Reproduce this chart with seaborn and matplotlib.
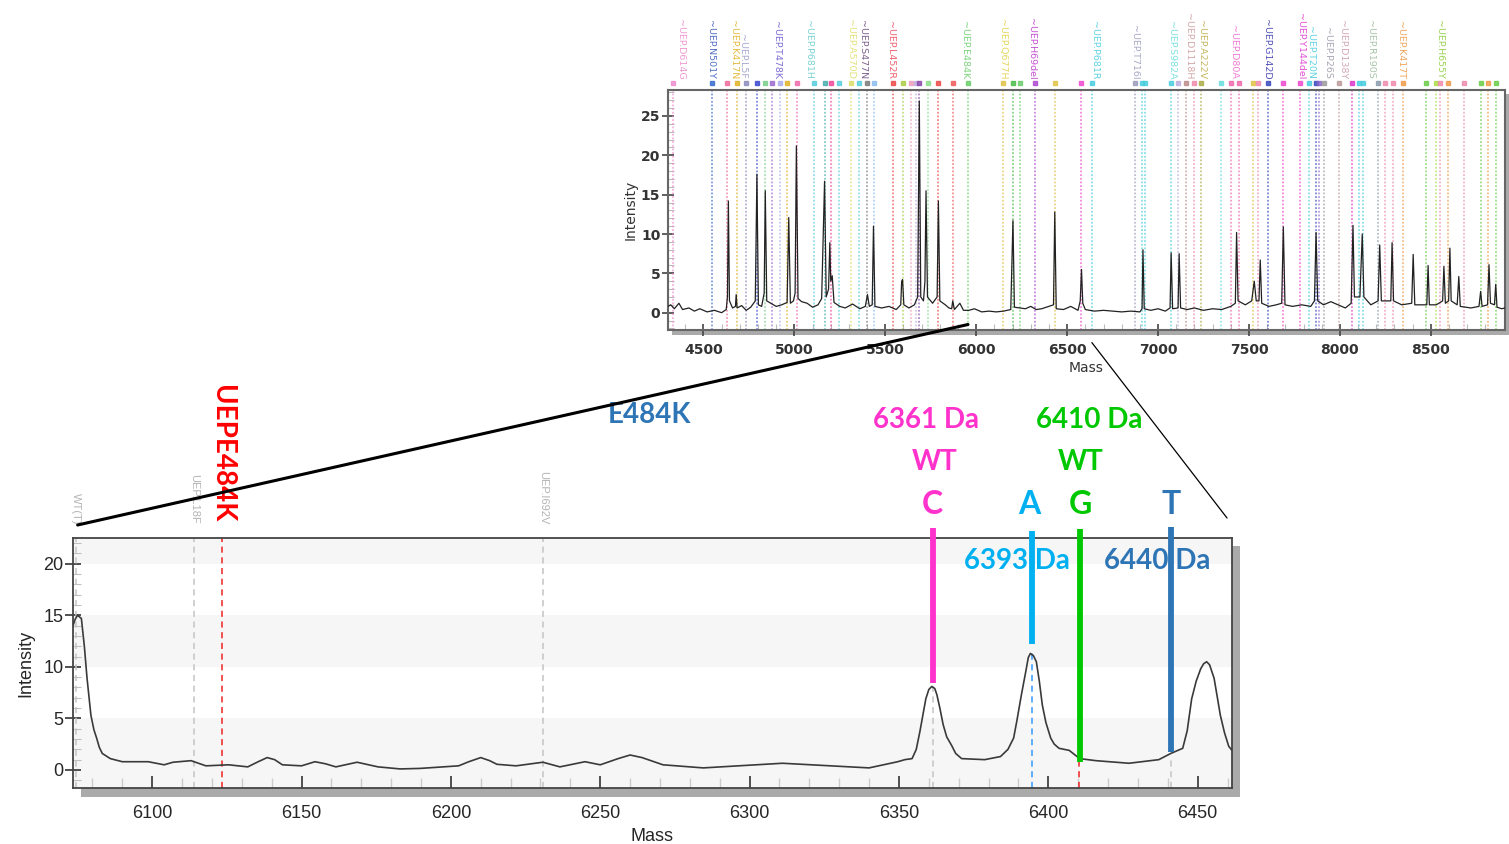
import matplotlib
matplotlib.use('Agg')
import matplotlib.pyplot as plt
import seaborn as sns
from matplotlib.patches import Rectangle, ConnectionPatch
from matplotlib.ticker import MultipleLocator

# ---- zoomed spectrum (bottom panel) ----
main_mass = [6073.5, 6074.2, 6075.0, 6076.3, 6077.3, 6078.2, 6079.5, 6080.5, 6081.4, 6082.3,
             6083.3, 6086, 6090, 6098.7, 6104, 6107, 6113, 6118, 6125.6, 6132,
             6135.5, 6138.5, 6141, 6143.6, 6150, 6154.5, 6158, 6161.5, 6168.6, 6175.6,
             6183, 6189.7, 6202.6, 6206, 6210, 6213, 6215.4, 6221.8, 6230.8, 6236.5,
             6244.9, 6250, 6256, 6260, 6264, 6271, 6284.5, 6311, 6340, 6349.6,
             6352, 6354.4, 6355.8, 6357, 6358, 6359, 6360, 6361, 6362, 6362.7,
             6363.7, 6364.8, 6366, 6367.6, 6369, 6371, 6378.7, 6384, 6386.5, 6388.4,
             6389.5, 6391, 6392.5, 6393.3, 6394, 6395, 6396, 6397, 6398, 6399.2,
             6400.8, 6402, 6403.6, 6407, 6410.5, 6416, 6427, 6437, 6441, 6445,
             6446.5, 6448, 6449.5, 6451, 6452, 6453, 6454, 6455.5, 6456.5, 6457.6,
             6459, 6460.4, 6461.5]
main_int = [14.0, 14.6, 15.0, 14.7, 12.0, 8.9, 5.3, 3.9, 3.1, 2.2,
            1.6, 1.1, 0.8, 0.8, 0.5, 0.75, 0.9, 0.4, 0.5, 0.3,
            0.8, 1.2, 1.0, 0.5, 0.4, 0.8, 0.6, 0.3, 0.75, 0.3,
            0.1, 0.15, 0.4, 0.8, 1.2, 0.9, 0.55, 0.4, 0.75, 0.3,
            0.8, 0.5, 1.1, 1.45, 1.2, 0.5, 0.2, 0.65, 0.2, 0.8,
            1.0, 1.1, 2.0, 3.7, 5.3, 6.9, 7.8, 8.1, 7.9, 7.3,
            6.0, 4.4, 3.2, 2.4, 1.6, 1.1, 1.0, 1.3, 2.0, 3.1,
            4.8, 7.3, 9.6, 10.9, 11.3, 11.1, 10.5, 8.6, 6.3, 4.6,
            3.1, 2.5, 2.1, 1.9, 1.1, 0.9, 0.65, 1.0, 1.6, 2.1,
            3.8, 6.9, 8.6, 9.8, 10.3, 10.5, 10.2, 8.9, 7.2, 5.3,
            3.6, 2.3, 1.9]

# assay markers in the zoomed panel
marker_mass = [6074.5, 6114, 6231]
marker_names = ['WT(T)', 'UEP.L18F', 'UEP.I692V']
target_mass = 6123.3
target_name = 'UEPE484K'

# allele extension products
allele_letters = ['C', 'A', 'G', 'T']
allele_mass = [6361.3, 6394.4, 6410.6, 6441.0]
allele_top = [23.5, 23.2, 23.4, 23.6]
allele_bottom = [8.4, 12.2, 0.75, 1.7]
allele_colors = ['#ff33cc', '#00b0f0', '#00c800', '#2e75b6']
allele_da = ['6361 Da', '6393 Da', '6410 Da', '6440 Da']

# ---- full spectrum (top inset) ----
inset_mass = [4305, 4320, 4340, 4365, 4385, 4420, 4450, 4480, 4520, 4560,
              4600, 4625, 4632, 4637, 4643, 4660, 4676, 4680, 4685, 4710,
              4735, 4760, 4785, 4794, 4802, 4820, 4834, 4840, 4848, 4870,
              4900, 4930, 4960, 4969, 4978, 4995, 5004, 5011, 5020, 5040,
              5070, 5100, 5130, 5150, 5166, 5175, 5188, 5195, 5200, 5208,
              5218, 5250, 5280, 5320, 5360, 5390, 5402, 5412, 5428, 5435,
              5443, 5480, 5520, 5560, 5585, 5590, 5595, 5602, 5630, 5660,
              5678, 5687, 5695, 5710, 5718, 5724, 5732, 5760, 5785, 5792,
              5800, 5830, 5850, 5865, 5871, 5880, 5910, 5930, 5960, 5990,
              6030, 6070, 6110, 6150, 6190, 6202, 6210, 6240, 6270, 6300,
              6330, 6360, 6400, 6425, 6432, 6440, 6480, 6520, 6560, 6572,
              6579, 6586, 6600, 6650, 6700, 6750, 6800, 6850, 6900, 6912,
              6917, 6924, 6960, 7000, 7040, 7066, 7072, 7080, 7110, 7116,
              7124, 7160, 7200, 7250, 7300, 7350, 7400, 7425, 7432, 7440,
              7480, 7515, 7529, 7540, 7555, 7562, 7570, 7610, 7650, 7680,
              7689, 7698, 7740, 7790, 7840, 7860, 7869, 7878, 7910, 7950,
              7990, 8030, 8062, 8072, 8080, 8110, 8123, 8132, 8170, 8210,
              8219, 8228, 8260, 8280, 8287, 8295, 8340, 8395, 8403, 8412,
              8450, 8478, 8485, 8492, 8530, 8565, 8572, 8580, 8598, 8605,
              8612, 8645, 8654, 8662, 8720, 8765, 8774, 8782, 8812, 8820,
              8828, 8850, 8857, 8864, 8890, 8908]
inset_int = [0.8, 1.0, 0.5, 1.2, 0.4, 0.6, 0.2, 0.5, 0.1, 0.3,
             0.0, 0.4, 2.0, 14.2, 1.5, 0.6, 0.8, 2.3, 0.6, 0.9,
             0.3, 0.7, 1.5, 17.6, 1.0, 0.8, 2.5, 15.5, 1.5, 1.2,
             0.8, 1.0, 1.3, 12.1, 1.2, 1.5, 2.5, 21.2, 1.8, 1.4,
             1.2, 0.7, 1.0, 1.8, 16.7, 2.0, 3.0, 8.9, 4.0, 4.7,
             1.3, 0.8, 0.6, 1.1, 0.5, 0.8, 2.3, 0.8, 1.0, 11.0,
             0.8, 0.6, 0.8, 0.4, 1.0, 4.0, 4.2, 1.0, 0.6, 1.0,
             2.0, 26.9, 2.0, 1.5, 4.0, 15.5, 2.0, 1.2, 2.0, 14.2,
             1.5, 1.0, 0.6, 0.5, 1.5, 0.4, 1.2, 0.3, 0.3, 0.5,
             0.1, 0.2, 0.1, 0.2, 0.4, 11.7, 0.7, 0.6, 0.5, 0.8,
             0.4, 0.5, 0.8, 1.0, 12.8, 0.5, 0.4, 0.8, 0.3, 1.5,
             5.5, 1.2, 0.4, 0.2, 0.3, 0.2, 0.1, 0.2, 0.1, 0.5,
             8.0, 0.5, 0.3, 0.5, 0.2, 0.6, 7.6, 0.5, 0.6, 7.5,
             0.6, 0.4, 0.6, 0.3, 0.5, 0.4, 0.8, 1.2, 10.2, 1.5,
             1.0, 1.5, 4.0, 1.5, 1.5, 6.7, 1.2, 0.8, 1.0, 1.2,
             10.9, 1.0, 0.8, 1.0, 0.8, 1.5, 10.2, 1.5, 1.0, 1.4,
             1.0, 0.6, 1.2, 11.1, 2.0, 2.0, 10.0, 2.0, 1.0, 1.5,
             8.6, 1.5, 1.5, 1.5, 8.9, 1.5, 1.0, 1.2, 7.4, 1.0,
             1.0, 1.0, 6.0, 1.0, 1.0, 1.5, 5.9, 1.2, 1.5, 8.2,
             1.5, 1.0, 4.6, 0.8, 0.6, 0.8, 2.7, 0.8, 1.0, 6.1,
             1.2, 1.0, 3.6, 0.7, 0.5, 0.6]

# expected-mass marker lines in the inset (dotted)
inset_line_mass = [4334, 4546, 4632, 4684, 4735, 4794, 4840, 4877, 4920, 4960,
                   5015, 5107, 5166, 5203, 5245, 5310, 5356, 5402, 5438, 5545,
                   5595, 5641, 5668, 5687, 5733, 5788, 5871, 5954, 6147, 6202,
                   6239, 6321, 6432, 6579, 6638, 6873, 6910, 6928, 7070, 7107,
                   7153, 7199, 7235, 7346, 7401, 7443, 7520, 7551, 7603, 7689,
                   7781, 7829, 7870, 7884, 7915, 7994, 8068, 8105, 8127, 8210,
                   8246, 8292, 8347, 8476, 8526, 8550, 8592, 8684, 8774, 8817, 8857]
inset_line_color = ['#ee88cc', '#3366cc', '#ee6699', '#e0b020', '#8888bb', '#3344cc', '#77cc88', '#9966cc', '#aaaaee', '#e0b020',
                    '#ee66aa', '#55ccdd', '#44aaaa', '#ee4499', '#55ccdd', '#dddd66', '#55ccdd', '#777777', '#88bbee', '#ee4444',
                    '#aacc44', '#ee99bb', '#bbaadd', '#8844aa', '#88dd88', '#ee4444', '#ee5555', '#66cc66', '#e0c040', '#44bb44',
                    '#66cc66', '#aa44cc', '#e0c040', '#ee44cc', '#44ccdd', '#9999bb', '#44ccdd', '#44ccdd', '#44ccdd', '#bbaadd',
                    '#bb8888', '#ee88aa', '#aaaa44', '#66dddd', '#ee66aa', '#ee66aa', '#e0c040', '#ee88aa', '#3344bb', '#ee44cc',
                    '#ee44cc', '#44ccdd', '#3344bb', '#8866cc', '#999999', '#bb9999', '#dd33cc', '#44ccdd', '#44ccdd', '#8899aa',
                    '#ee88aa', '#ee88aa', '#ee9944', '#66cc44', '#aadd44', '#ee88aa', '#ee9944', '#ee88aa', '#66cc44', '#ee9944', '#66cc44']

inset_label_mass = [4371, 4537, 4664, 4714, 4901, 5078, 5310, 5376, 5530, 5933,
                    6143, 6303, 6650, 6871, 7075, 7169, 7241, 7417, 7599, 7781,
                    7837, 7930, 8013, 8167, 8333, 8548]
inset_label_color = ['#ee88cc', '#3355bb', '#e0b020', '#9999cc', '#6655cc', '#66cccc', '#dddd66', '#664477', '#ee4455', '#66cc66',
                     '#e0d040', '#bb33cc', '#44ccdd', '#9999bb', '#66dddd', '#cc9999', '#bbaa44', '#ee66cc', '#3333aa', '#dd33cc',
                     '#44ccdd', '#9999aa', '#cc99aa', '#99bb99', '#ee9944', '#88cc33']
inset_label_text = ['UEP.D614G', 'UEP.N501Y', 'UEP.K417N', 'UEP.L5F', 'UEP.T478K', 'UEP.P681H', 'UEP.A570D', 'UEP.S477N', 'UEP.L452R', 'UEP.E484K',
                    'UEP.Q677H', 'UEP.H69del', 'UEP.P681R', 'UEP.T716I', 'UEP.S982A', 'UEP.D1118H', 'UEP.A222V', 'UEP.D80A', 'UEP.G142D', 'UEP.Y144del',
                    'UEP.T20N', 'UEP.P26S', 'UEP.D138Y', 'UEP.R190S', 'UEP.K417T', 'UEP.H655Y']

# ---- figure ----
sns.set_style('white')
plt.rcParams['font.family'] = ['Liberation Sans', 'DejaVu Sans']

W, H = 1509, 844
fig = plt.figure(figsize=(W / 100, H / 100), dpi=100)


def box(x0, y0, x1, y1):
    # pixel box (from top-left) -> figure fraction [left, bottom, width, height]
    return [x0 / W, 1 - y1 / H, (x1 - x0) / W, (y1 - y0) / H]


# drop shadows behind the two plot frames
for b in (box(81, 546, 1240, 797), box(672, 94, 1509, 335)):
    fig.add_artist(Rectangle((b[0], b[1]), b[2], b[3], transform=fig.transFigure,
                             facecolor='#aaaaaa', edgecolor='none', zorder=-5))

ax = fig.add_axes(box(73, 538, 1232, 788))
ins = fig.add_axes(box(668, 90, 1505, 330))

# ---------------- bottom panel ----------------
ax.set_xlim(6073.5, 6461.5)
ax.set_ylim(-1.75, 22.5)
for lo, hi in [(-1.75, 5), (10, 15), (20, 22.5)]:
    ax.axhspan(lo, hi, color='#f6f6f6', lw=0, zorder=0)

sns.lineplot(x=main_mass, y=main_int, ax=ax, color='#3a3a3a', lw=1.2, zorder=3, sort=False)

for m, name in zip(marker_mass, marker_names):
    ax.axvline(m, color='#c4c4c4', ls=(0, (4, 3)), lw=1.1, zorder=1)
    ax.text(m, 1.055, name, transform=ax.get_xaxis_transform(), rotation=270,
            ha='center', va='bottom', fontsize=8, color='#b4b4b4')
ax.axvline(target_mass, color='#ee2222', ls=(0, (4, 3)), lw=1.1, zorder=1)
ax.text(target_mass, 1.062, target_name, transform=ax.get_xaxis_transform(), rotation=270,
        ha='center', va='bottom', fontsize=20, fontweight='bold', color='#ff0000',
        family=['Lato', 'DejaVu Sans'])

# dashed guides under the peaks
ax.vlines(allele_mass[0], -1.75, 8.1, color='#c4c4c4', ls=(0, (4, 3)), lw=1.1, zorder=2)
ax.vlines(allele_mass[1], -1.75, 11.3, color='#3399ff', ls=(0, (4, 3)), lw=1.1, zorder=2)
ax.vlines(allele_mass[2] - 0.3, -1.75, 0.8, color='#ee2222', ls=(0, (4, 3)), lw=1.1, zorder=2)
ax.vlines(allele_mass[3], -1.75, 1.4, color='#c4c4c4', ls=(0, (4, 3)), lw=1.1, zorder=2)

# thick allele bars and their labels
xt = ax.get_xaxis_transform()
lato = ['Lato', 'DejaVu Sans']
for m, top, bot, c, let in zip(allele_mass, allele_top, allele_bottom, allele_colors, allele_letters):
    ax.vlines(m, bot, top, color=c, lw=4.2, zorder=6, clip_on=False)
    ax.text(m - 0.6 if let == 'A' else m, 1.136, let, transform=xt, ha='center', va='center',
            fontsize=23, fontweight='bold', color=c, family=lato)

ax.text(6362.0, 1.304, 'WT', transform=xt, ha='center', va='center', fontsize=20,
        fontweight='bold', color=allele_colors[0], family=lato)
ax.text(6410.7, 1.304, 'WT', transform=xt, ha='center', va='center', fontsize=20,
        fontweight='bold', color=allele_colors[2], family=lato)
ax.text(6359.2, 1.472, allele_da[0], transform=xt, ha='center', va='center', fontsize=20,
        fontweight='bold', color=allele_colors[0], family=lato)
ax.text(6413.7, 1.472, allele_da[2], transform=xt, ha='center', va='center', fontsize=20,
        fontweight='bold', color=allele_colors[2], family=lato)
ax.text(6389.6, 0.908, allele_da[1], transform=xt, ha='center', va='center', fontsize=20,
        fontweight='bold', color=allele_colors[1], family=lato, zorder=7)
ax.text(6436.5, 0.908, allele_da[3], transform=xt, ha='center', va='center', fontsize=20,
        fontweight='bold', color=allele_colors[3], family=lato, zorder=7)
ax.text(6266.6, 1.492, 'E484K', transform=xt, ha='center', va='center', fontsize=20,
        fontweight='bold', color='#2e75b6', family=lato)

ax.xaxis.set_major_locator(MultipleLocator(50))
ax.xaxis.set_minor_locator(MultipleLocator(10))
ax.yaxis.set_major_locator(MultipleLocator(5))
ax.yaxis.set_minor_locator(MultipleLocator(1))
ax.tick_params(axis='x', which='major', direction='in', length=9, width=1.2, color='#333333',
               labelsize=13, pad=12.5, bottom=True)
ax.tick_params(axis='x', which='minor', direction='in', length=7, width=1, color='#cccccc', bottom=True)
ax.tick_params(axis='y', which='major', direction='inout', length=12, width=1.2, color='#333333',
               labelsize=13, pad=1, left=True)
ax.tick_params(axis='y', which='minor', direction='in', length=6, width=0.8, color='#c0c0c0', left=True)
for s in ax.spines.values():
    s.set_color('#444444')
    s.set_linewidth(1.3)
ax.set_xlabel('Mass', fontsize=13, labelpad=4)
ax.set_ylabel('Intensity', fontsize=13, labelpad=6)

# ---------------- top inset ----------------
ins.set_xlim(4305, 8908)
ins.set_ylim(-2.2, 28.3)
ixt = ins.get_xaxis_transform()
for m, c in zip(inset_line_mass, inset_line_color):
    ins.axvline(m, color=c, ls=(0, (1.2, 1.2)), lw=1.1, alpha=0.75, zorder=1)
    ins.plot([m], [1.03], marker='s', ms=3.5, color=c, alpha=0.8, transform=ixt, clip_on=False)
for m, c, t in zip(inset_label_mass, inset_label_color, inset_label_text):
    ins.text(m, 1.045, '~' + t, transform=ixt, rotation=270, ha='center', va='bottom',
             fontsize=6.8, color=c, alpha=0.85, family=['DejaVu Sans'])

sns.lineplot(x=inset_mass, y=inset_int, ax=ins, color='#222222', lw=0.9, zorder=3, sort=False)

ins.xaxis.set_major_locator(MultipleLocator(500))
ins.xaxis.set_minor_locator(MultipleLocator(100))
ins.yaxis.set_major_locator(MultipleLocator(5))
ins.yaxis.set_minor_locator(MultipleLocator(1))
ins.tick_params(axis='x', which='major', direction='inout', length=9, width=1.2, color='#444444',
                labelsize=10, pad=5, bottom=True, labelcolor='#333333')
ins.tick_params(axis='x', which='minor', direction='in', length=4, width=0.8, color='#bbbbbb', bottom=True)
ins.tick_params(axis='y', which='major', direction='inout', length=9, width=1.2, color='#444444',
                labelsize=10, pad=1, left=True, labelcolor='#333333')
ins.tick_params(axis='y', which='minor', direction='in', length=4, width=0.8, color='#bbbbbb', left=True)
for lab in ins.get_xticklabels() + ins.get_yticklabels():
    lab.set_family('DejaVu Sans')
    lab.set_fontweight('bold')
for s in ins.spines.values():
    s.set_color('#666666')
    s.set_linewidth(1.5)
ins.set_xlabel('Mass', fontsize=10, labelpad=3, color='#333333', family='DejaVu Sans')
ins.set_ylabel('Intensity', fontsize=10, labelpad=2, color='#333333', family='DejaVu Sans')

# zoom connector lines
fig.add_artist(ConnectionPatch(xyA=(5955, -1.5), coordsA=ins.transData,
                               xyB=(0.004, 1.052), coordsB=ax.transAxes, color='black', lw=2.2))
fig.add_artist(ConnectionPatch(xyA=(6636, -3.8), coordsA=ins.transData,
                               xyB=(0.9957, 1.08), coordsB=ax.transAxes, color='black', lw=0.9))

fig.savefig('out.png', dpi=100)
